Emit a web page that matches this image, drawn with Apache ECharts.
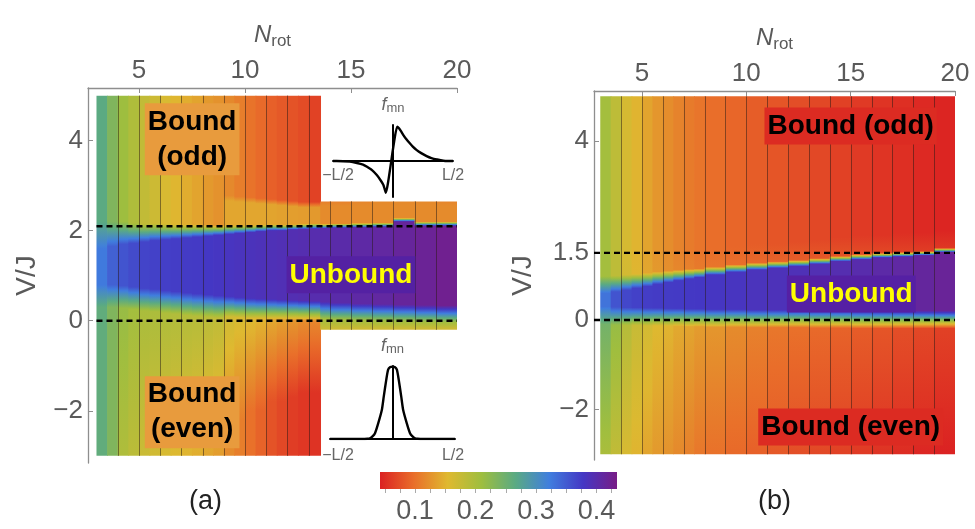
<!DOCTYPE html>
<html>
<head>
<meta charset="utf-8">
<script src="https://cdn.jsdelivr.net/npm/echarts@6.0.0/dist/echarts.min.js"></script>
<style>
html,body{margin:0;padding:0;background:#fff;}
#chart{width:975px;height:529px;}
</style>
</head>
<body>
<div id="chart"></div>
<script>
// ---------------- colour scale ----------------
const cmapVal = [0.042, 0.098, 0.154, 0.210, 0.266, 0.322, 0.378, 0.434];
const cmapCol = ['#db2122', '#e96e2a', '#dfb930', '#9ebe3f', '#5aaa83', '#407ede', '#4437c4', '#781c86'];
const cbarTicks = [0.05, 0.075, 0.1, 0.125, 0.15, 0.175, 0.2, 0.225, 0.25, 0.275, 0.3, 0.325, 0.35, 0.375, 0.4, 0.425];
const cbarLabels = [0.1, 0.2, 0.3, 0.4];

// ---------------- panel (a) ----------------
const aTicksN = [5, 10, 15, 20];
const aTicksV = [-2, 0, 2, 4];
const aGridN = [4, 5, 6, 7, 8, 9, 10, 11, 12, 13, 14, 15, 16, 17, 18, 19];
const aDashV = [2.1, 0];
const aDashN = [3, 20];
const aEdges = [3, 3.5, 4, 4.5, 5, 5.5, 6, 6.5, 7, 7.5, 8, 8.5, 9, 9.5, 10, 10.5, 11, 11.5, 12, 12.5, 13, 13.55, 14, 15, 16, 17, 18, 19, 20];
const aVLo = [-3,-3,-3,-3,-3,-3,-3,-3,-3,-3,-3,-3,-3,-3,-3,-3,-3,-3,-3,-3,-3, -0.2,-0.2,-0.2,-0.2,-0.2,-0.2,-0.2];
const aVHi = [5,5,5,5,5,5,5,5,5,5,5,5,5,5,5,5,5,5,5,5,5, 2.65,2.65,2.65,2.65,2.65,2.65,2.65];
const aBot = [0.26,0.235,0.195,0.185,0.172,0.166,0.16,0.155,0.15,0.145,0.138,0.132,0.12,0.11,0.1,0.09,0.078,0.07,0.062,0.058,0.055, 0.17,0.168,0.166,0.165,0.165,0.165,0.165];
const aBotTop = [-3,-3,-3,-3,-3,-3,-3,-3,-3,-3,-3,-3, -2.4,-2.2,-2,-2,-1.8,-1.8,-1.7,-1.6,-1.6, -0.2,-0.2,-0.2,-0.2,-0.2,-0.2,-0.2];
const aNearLow = [0.26,0.235,0.215,0.205,0.2,0.198,0.196,0.194,0.192,0.19,0.186,0.182, 0.168,0.162,0.157,0.15,0.142,0.135,0.128,0.122,0.117, 0.205,0.205,0.205,0.205,0.205,0.205,0.205];
const aLowEdge = [0.8,0.8,0.78,0.75,0.72,0.7,0.67,0.65,0.62,0.6,0.58,0.56,0.54,0.52,0.5,0.49,0.48,0.47,0.46,0.45,0.44, 0.42,0.4,0.38,0.37,0.36,0.35,0.34];
const aLowW = [0.5,0.5,0.5,0.5,0.5,0.5,0.5,0.5,0.5,0.5,0.5,0.5,0.45,0.45,0.45,0.45,0.45,0.45,0.45,0.45,0.45, 0.38,0.38,0.38,0.38,0.38,0.38,0.38];
const aBand = [0.325,0.345,0.355,0.362,0.368,0.37,0.372,0.373,0.375,0.376,0.378,0.38,0.382,0.384,0.386,0.388,0.39,0.392,0.394,0.396,0.398, 0.4,0.402,0.406,0.41,0.415,0.42,0.425];
const aHighEdge = [1.6,1.65,1.7,1.72,1.75,1.78,1.8,1.82,1.84,1.86,1.88,1.9,1.92,1.94,1.96,1.98,2.0,2.0,2.02,2.03,2.04, 2.05,2.06,2.07,2.08,2.2,2.1,2.1];
const aHighW = [0.6,0.55,0.5,0.45,0.4,0.38,0.35,0.32,0.3,0.28,0.25,0.22,0.2,0.18,0.16,0.15,0.14,0.13,0.12,0.12,0.12, 0.1,0.1,0.1,0.1,0.08,0.1,0.1];
const aNearHigh = [0.265,0.235,0.21,0.195,0.18,0.17,0.16,0.152,0.145,0.138,0.13,0.125, 0.14,0.14,0.14,0.14,0.138,0.136,0.134,0.132,0.13, 0.12,0.12,0.12,0.12,0.12,0.12,0.12];
const aNearHighTo = [2.3,2.3,2.3,2.3,2.3,2.3,2.3,2.3,2.3,2.3,2.3,2.3, 2.66,2.64,2.62,2.6,2.58,2.56,2.54,2.52,2.52, 2.55,2.55,2.55,2.55,2.55,2.55,2.55];
const aTopFrom = [2.4,2.4,2.4,2.4,2.4,2.4,2.4,2.4,2.4,2.4,2.4,2.4, 2.78,2.76,2.74,2.72,2.7,2.68,2.66,2.64,2.64, 2.65,2.65,2.65,2.65,2.65,2.65,2.65];
const aTop = [0.265,0.235,0.21,0.195,0.18,0.17,0.16,0.152,0.145,0.138,0.13,0.125, 0.118,0.11,0.102,0.095,0.088,0.083,0.078,0.073,0.066, 0.11,0.112,0.115,0.118,0.118,0.118,0.115];
const aLabelText = ['Bound\n(odd)', 'Bound\n(even)', 'Unbound'];
const aLabelN = [7.51, 7.51, 15.0];
const aLabelV = [4.03, -2.03, 1.02];

// ---------------- panel (b) ----------------
const bTicksN = [5, 10, 15, 20];
const bTicksV = [-2, 0, 1.5, 4];
const bGridN = [4, 5, 6, 7, 8, 9, 10, 11, 12, 13, 14, 15, 16, 17, 18, 19];
const bDashV = [1.5, 0];
const bDashN = [2.7, 20];
const bEdges = [3, 3.5, 4, 4.5, 5, 5.5, 6, 6.5, 7, 7.5, 8, 9, 10, 11, 12, 13, 14, 15, 16, 17, 18, 19, 20];
const bVLo = -3;
const bVHi = 5;
const bBotTop = -3;
const bLowW = 0.4;
const bBot = [0.2,0.18,0.16,0.15,0.138,0.13,0.125,0.118,0.112,0.105,0.1,0.094,0.088,0.082,0.075,0.07,0.065,0.06,0.055,0.05,0.046,0.043];
const bNearLow = [0.245,0.215,0.19,0.175,0.165,0.155,0.15,0.142,0.138,0.132,0.128,0.12,0.112,0.105,0.1,0.095,0.09,0.085,0.08,0.075,0.07,0.065];
const bLowEdge = [0.3,0.29,0.28,0.28,0.27,0.27,0.26,0.26,0.25,0.25,0.24,0.24,0.23,0.23,0.23,0.22,0.22,0.21,0.21,0.21,0.21,0.21];
const bBand = [0.33,0.355,0.365,0.37,0.373,0.375,0.375,0.376,0.377,0.378,0.38,0.382,0.385,0.388,0.39,0.393,0.396,0.4,0.404,0.408,0.413,0.418];
const bHighEdge = [0.6,0.63,0.67,0.71,0.75,0.8,0.84,0.88,0.92,0.95,1.01,1.07,1.12,1.16,1.2,1.25,1.31,1.35,1.39,1.41,1.44,1.51];
const bHighW = [0.38,0.36,0.34,0.32,0.3,0.28,0.26,0.24,0.22,0.2,0.18,0.17,0.16,0.15,0.14,0.13,0.12,0.12,0.11,0.11,0.1,0.1];
const bNearHigh = [0.205,0.183,0.165,0.152,0.14,0.13,0.123,0.117,0.112,0.107,0.103,0.098,0.094,0.09,0.086,0.082,0.078,0.074,0.07,0.066,0.062,0.058];
const bTopFrom = [1.3,1.35,1.4,1.4,1.45,1.5,1.5,1.5,1.55,1.55,1.6,1.65,1.7,1.7,1.75,1.8,1.85,1.9,1.9,1.95,1.95,2.0];
const bTop = [0.205,0.183,0.163,0.15,0.138,0.128,0.121,0.114,0.108,0.103,0.098,0.092,0.086,0.08,0.075,0.07,0.065,0.06,0.056,0.052,0.048,0.045];
const bLabelText = ['Bound (odd)', 'Unbound', 'Bound (even)'];
const bLabelN = [15.0, 15.03, 15.0];
const bLabelV = [4.34, 0.58, -2.39];

// ---------------- insets (profiles f_mn) ----------------
const oddX = [-1, -0.94, -0.72, -0.6, -0.5, -0.44, -0.35, -0.27, -0.21, -0.16, -0.14, -0.12, 0.07, 0.1, 0.13, 0.17, 0.22, 0.28, 0.33, 0.39, 0.47, 0.56, 0.64, 0.73, 0.89, 1];
const oddY = [0, 0, -0.02, -0.06, -0.11, -0.17, -0.28, -0.43, -0.58, -0.73, -0.85, -0.97, 1.05, 1.0, 0.92, 0.8, 0.67, 0.54, 0.44, 0.34, 0.24, 0.15, 0.09, 0.05, 0, 0];
const evenX = [-1, -0.5, -0.4, -0.36, -0.32, -0.28, -0.23, -0.17, -0.14, -0.1, -0.07, -0.035, 0, 0.035, 0.07, 0.1, 0.14, 0.17, 0.23, 0.28, 0.32, 0.36, 0.4, 0.5, 1];
const evenY = [0, 0, 0.003, 0.01, 0.035, 0.08, 0.21, 0.4, 0.58, 0.81, 0.95, 0.985, 0.99, 0.985, 0.95, 0.81, 0.58, 0.4, 0.21, 0.08, 0.035, 0.01, 0.003, 0, 0];
const insetTickText = ['\u2212L/2', 'L/2'];

// ---------------- helpers ----------------
const FONT = '"Liberation Sans", Arial, Helvetica, sans-serif';
const GREY = '#5a5a5a';
const AXC = '#8e8e8e';

function hexRgb(h) { return [parseInt(h.slice(1,3),16), parseInt(h.slice(3,5),16), parseInt(h.slice(5,7),16)]; }
const cmapRgb = cmapCol.map(hexRgb);
function colorAt(v) {
  const n = cmapVal.length;
  if (v <= cmapVal[0]) return cmapCol[0];
  if (v >= cmapVal[n-1]) return cmapCol[n-1];
  let k = 0;
  while (k < n - 2 && v > cmapVal[k+1]) k++;
  const t = (v - cmapVal[k]) / (cmapVal[k+1] - cmapVal[k]);
  const a = cmapRgb[k], b = cmapRgb[k+1];
  const c = a.map((x, j) => Math.round(x + (b[j] - x) * t));
  return 'rgb(' + c.join(',') + ')';
}
function pick(arr, i) { return Array.isArray(arr) ? arr[i] : arr; }

function columnGradient(P, i) {
  const vLo = pick(P.vLo, i), vHi = pick(P.vHi, i);
  const s = [];
  s.push([vLo, pick(P.bot, i)]);
  s.push([pick(P.botTop, i), pick(P.bot, i)]);
  s.push([pick(P.lowEdge, i) - pick(P.lowW, i), pick(P.nearLow, i)]);
  s.push([pick(P.lowEdge, i), pick(P.band, i)]);
  s.push([pick(P.highEdge, i), pick(P.band, i)]);
  s.push([pick(P.highEdge, i) + pick(P.highW, i), pick(P.nearHigh, i)]);
  if (P.nearHighTo) s.push([pick(P.nearHighTo, i), pick(P.nearHigh, i)]);
  s.push([pick(P.topFrom, i), pick(P.top, i)]);
  s.push([vHi, pick(P.top, i)]);
  let last = vLo;
  const st = s.map(([v, val]) => { const vv = Math.min(vHi, Math.max(last, v)); last = vv; return [vv, val]; });
  const cs = [];
  for (let k = 0; k < st.length - 1; k++) {
    const [v0, a] = st[k], [v1, b] = st[k+1];
    const n = Math.max(1, Math.ceil(Math.abs(b - a) / 0.008));
    for (let j = 0; j <= n; j++) {
      const t = j / n;
      const V = v0 + (v1 - v0) * t;
      cs.push({ offset: (vHi - V) / (vHi - vLo), color: colorAt(a + (b - a) * t) });
    }
  }
  cs.sort((p, q) => p.offset - q.offset);
  return new echarts.graphic.LinearGradient(0, 0, 0, 1, cs);
}

const panelA = { edges: aEdges, vLo: aVLo, vHi: aVHi, bot: aBot, botTop: aBotTop, nearLow: aNearLow, lowEdge: aLowEdge, lowW: aLowW,
  band: aBand, highEdge: aHighEdge, highW: aHighW, nearHigh: aNearHigh, nearHighTo: aNearHighTo, topFrom: aTopFrom, top: aTop };
const panelB = { edges: bEdges, vLo: bVLo, vHi: bVHi, bot: bBot, botTop: bBotTop, nearLow: bNearLow, lowEdge: bLowEdge, lowW: bLowW,
  band: bBand, highEdge: bHighEdge, highW: bHighW, nearHigh: bNearHigh, topFrom: bTopFrom, top: bTop };

function heatSeries(P, ax) {
  const nCol = P.edges.length - 1;
  const grads = [];
  const data = [];
  for (let i = 0; i < nCol; i++) {
    grads.push(columnGradient(P, i));
    data.push([P.edges[i], P.edges[i+1], pick(P.vLo, i), pick(P.vHi, i), i]);
  }
  return {
    type: 'custom', xAxisIndex: ax, yAxisIndex: ax, silent: true, z: 1,
    encode: { x: [0, 1], y: [2, 3] }, data,
    renderItem(params, api) {
      const i = api.value(4);
      const tl = api.coord([api.value(0), api.value(3)]);
      const br = api.coord([api.value(1), api.value(2)]);
      const extra = i === nCol - 1 ? 0 : 0.8;
      return { type: 'rect', shape: { x: tl[0], y: tl[1], width: br[0] - tl[0] + extra, height: br[1] - tl[1] }, style: { fill: grads[i] } };
    }
  };
}

function gridLineSeries(P, gridN, ax) {
  const data = gridN.map(n => {
    let i = 0;
    while (i < P.edges.length - 2 && n >= P.edges[i+1]) i++;
    return [n, pick(P.vLo, i), pick(P.vHi, i)];
  });
  return {
    type: 'custom', xAxisIndex: ax, yAxisIndex: ax, silent: true, z: 2, data,
    encode: { x: 0, y: [1, 2] },
    renderItem(params, api) {
      const p0 = api.coord([api.value(0), api.value(1)]);
      const p1 = api.coord([api.value(0), api.value(2)]);
      const x = Math.round(p0[0]) + 0.5;
      return { type: 'line', shape: { x1: x, y1: p0[1], x2: x, y2: p1[1] }, style: { stroke: 'rgba(35,25,20,0.5)', lineWidth: 1 } };
    }
  };
}

function dashSeries(nRange, v, ax) {
  return {
    type: 'line', xAxisIndex: ax, yAxisIndex: ax, silent: true, z: 3, symbol: 'none',
    data: [[nRange[0], v], [nRange[1], v]],
    lineStyle: { color: '#000', width: 2.4, type: [6, 4] }
  };
}

function labelSeries(texts, ns, vs, bgs, fills, ax) {
  return {
    type: 'custom', xAxisIndex: ax, yAxisIndex: ax, silent: true, z: 5,
    data: ns.map((n, i) => [n, vs[i], i]),
    renderItem(params, api) {
      const k = api.value(2);
      const p = api.coord([api.value(0), api.value(1)]);
      return { type: 'text', x: p[0], y: p[1], z2: 10,
        style: { text: texts[k], fill: fills[k], fontSize: 28, fontWeight: 'bold', fontFamily: FONT,
          align: 'center', verticalAlign: 'middle', lineHeight: 35, backgroundColor: bgs[k], padding: [1, 3, 1, 3] } };
    }
  };
}

const minusFmt = v => (v < 0 ? '\u2212' + Math.abs(v) : String(v));

function mainX(grid, min, ticks) {
  return {
    gridIndex: grid, type: 'value', position: 'top', min, max: 20,
    axisLine: { show: true, onZero: false, lineStyle: { color: AXC, width: 1.3 } },
    axisTick: { show: true, inside: true, length: 5, customValues: ticks, lineStyle: { color: AXC } },
    axisLabel: { customValues: ticks, fontSize: 26, color: GREY, fontFamily: FONT, margin: 4 },
    splitLine: { show: false },
    name: '{n|N}{s|rot}', nameLocation: 'middle', nameGap: 38,
    nameTextStyle: { rich: {
      n: { fontSize: 24, fontStyle: 'italic', color: GREY, fontFamily: FONT, lineHeight: 30 },
      s: { fontSize: 17, color: GREY, fontFamily: FONT, verticalAlign: 'bottom', lineHeight: 14 } } }
  };
}
function mainY(grid, min, max, ticks, gap) {
  return {
    gridIndex: grid, type: 'value', min, max,
    axisLine: { show: true, onZero: false, lineStyle: { color: AXC, width: 1.3 } },
    axisTick: { show: true, inside: true, length: 5, customValues: ticks, lineStyle: { color: AXC } },
    axisLabel: { customValues: ticks, formatter: minusFmt, fontSize: 26, color: GREY, fontFamily: FONT, margin: 5 },
    splitLine: { show: false },
    name: 'V/J', nameLocation: 'middle', nameGap: gap,
    nameTextStyle: { fontSize: 28, color: GREY, fontFamily: FONT }
  };
}
function insetX(grid) {
  return {
    gridIndex: grid, type: 'value', min: -1, max: 1,
    axisLine: { show: true, onZero: true, lineStyle: { color: '#000', width: 2 } },
    axisTick: { show: false }, axisLabel: { show: false }, splitLine: { show: false }
  };
}
function insetY(grid, min, max) {
  return {
    gridIndex: grid, type: 'value', min, max,
    axisLine: { show: true, onZero: true, lineStyle: { color: '#000', width: 2 } },
    axisTick: { show: false }, axisLabel: { show: false }, splitLine: { show: false },
    name: '{f|f}{s|mn}', nameLocation: 'end', nameGap: 10,
    nameTextStyle: { rich: {
      f: { fontSize: 18, fontStyle: 'italic', color: '#666', fontFamily: FONT, lineHeight: 20 },
      s: { fontSize: 13, color: '#666', fontFamily: FONT, verticalAlign: 'bottom', lineHeight: 11 } } }
  };
}
function insetText(x, y, t) {
  return { type: 'text', x, y, z: 100, style: { text: t, fill: '#666', fontSize: 16, fontFamily: FONT, align: 'center', verticalAlign: 'middle' } };
}

const cbarLo = cmapVal[0], cbarHi = cmapVal[cmapVal.length - 1];
const cbarGrad = new echarts.graphic.LinearGradient(0, 0, 1, 0,
  cmapVal.map((v, i) => ({ offset: (v - cbarLo) / (cbarHi - cbarLo), color: cmapCol[i] })));

const chart = echarts.init(document.getElementById('chart'), null, { renderer: 'canvas' });
chart.setOption({
  animation: false,
  backgroundColor: '#fff',
  grid: [
    { left: 88, top: 88, width: 369, height: 375 },
    { left: 594, top: 91, width: 361, height: 369 },
    { left: 333, top: 125, width: 120, height: 72 },
    { left: 330, top: 366, width: 125, height: 73 },
    { left: 380, top: 472, width: 237, height: 17 }
  ],
  xAxis: [
    mainX(0, 2.6, aTicksN),
    mainX(1, 2.7, bTicksN),
    insetX(2),
    insetX(3),
    {
      gridIndex: 4, type: 'value', min: cbarLo, max: cbarHi,
      axisLine: { show: false },
      axisTick: { show: true, length: 4, customValues: cbarTicks, lineStyle: { color: '#aaa' } },
      axisLabel: { customValues: cbarLabels, formatter: v => v.toFixed(1), fontSize: 27, color: GREY, fontFamily: FONT, margin: 9 },
      splitLine: { show: false }
    }
  ],
  yAxis: [
    mainY(0, -3.16, 5.17, aTicksV, 47),
    mainY(1, -3.13, 5.12, bTicksV, 57),
    insetY(2, -1.1, 1.1),
    insetY(3, 0, 1),
    { gridIndex: 4, type: 'value', min: 0, max: 1, show: false }
  ],
  series: [
    heatSeries(panelA, 0),
    gridLineSeries(panelA, aGridN, 0),
    dashSeries(aDashN, aDashV[0], 0),
    dashSeries(aDashN, aDashV[1], 0),
    labelSeries(aLabelText, aLabelN, aLabelV, ['#e89b3d', '#e89b3d', '#5421a3'], ['#000', '#000', '#ffff00'], 0),

    heatSeries(panelB, 1),
    gridLineSeries(panelB, bGridN, 1),
    dashSeries(bDashN, bDashV[0], 1),
    dashSeries(bDashN, bDashV[1], 1),
    labelSeries(bLabelText, bLabelN, bLabelV, ['#dc2b22', '#5520a4', '#dc2b22'], ['#000', '#ffff00', '#000'], 1),

    { type: 'line', xAxisIndex: 2, yAxisIndex: 2, silent: true, symbol: 'none', smooth: 0.15,
      data: oddX.map((x, i) => [x, oddY[i]]), lineStyle: { color: '#000', width: 2.4 } },
    { type: 'line', xAxisIndex: 3, yAxisIndex: 3, silent: true, symbol: 'none', smooth: 0.2,
      data: evenX.map((x, i) => [x, evenY[i]]), lineStyle: { color: '#000', width: 2.4 } },

    { type: 'custom', xAxisIndex: 4, yAxisIndex: 4, silent: true,
      data: [[cbarLo, cbarHi, 0, 1]], encode: { x: [0, 1], y: [2, 3] },
      renderItem(params, api) {
        const tl = api.coord([api.value(0), api.value(3)]);
        const br = api.coord([api.value(1), api.value(2)]);
        return { type: 'rect', shape: { x: tl[0], y: tl[1], width: br[0] - tl[0], height: br[1] - tl[1] }, style: { fill: cbarGrad } };
      } }
  ],
  graphic: [
    { type: 'text', x: 205.5, y: 502, style: { text: '(a)', fill: '#222', fontSize: 27, fontFamily: FONT, align: 'center', verticalAlign: 'middle' } },
    { type: 'text', x: 774.5, y: 502, style: { text: '(b)', fill: '#222', fontSize: 27, fontFamily: FONT, align: 'center', verticalAlign: 'middle' } },
    insetText(338, 176, insetTickText[0]),
    insetText(453, 176, insetTickText[1]),
    insetText(338, 456, insetTickText[0]),
    insetText(453, 456, insetTickText[1])
  ]
});
</script>
</body>
</html>
